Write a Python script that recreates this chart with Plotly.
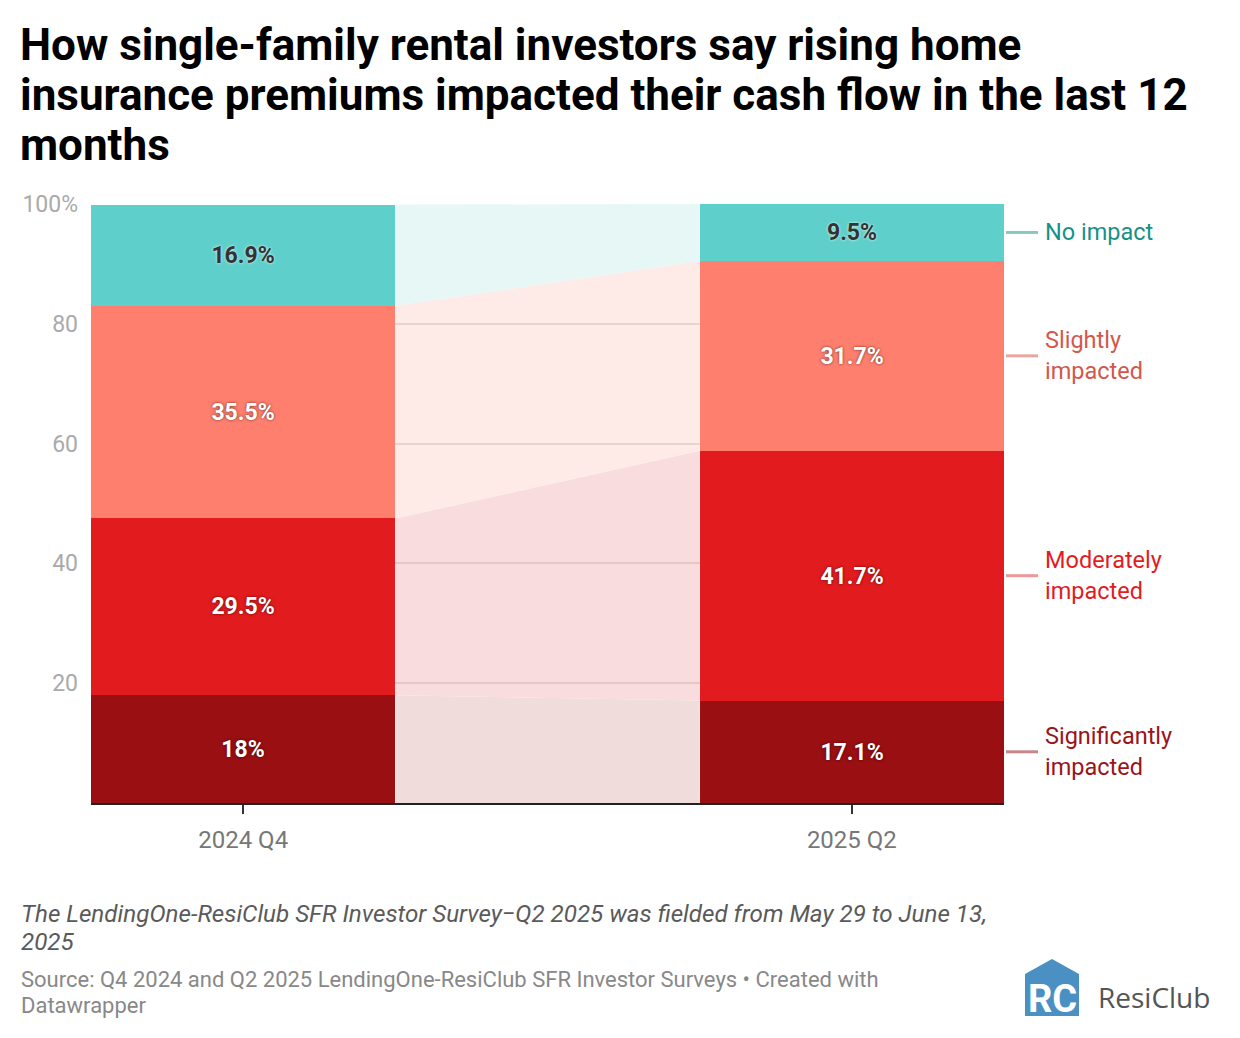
import plotly.graph_objects as go

# ---------------- data ----------------
periods = ["2024 Q4", "2025 Q2"]
categories = ["Significantly impacted", "Moderately impacted", "Slightly impacted", "No impact"]
significantly = [18.0, 17.1]
moderately = [29.5, 41.7]
slightly = [35.5, 31.7]
no_impact = [16.9, 9.5]
bar_labels = {
    "Significantly impacted": ["18%", "17.1%"],
    "Moderately impacted": ["29.5%", "41.7%"],
    "Slightly impacted": ["35.5%", "31.7%"],
    "No impact": ["16.9%", "9.5%"],
}
y_tickvals = [20, 40, 60, 80, 100]
y_ticktext = ["20", "40", "60", "80", "100%"]

series = {
    "Significantly impacted": significantly,
    "Moderately impacted": moderately,
    "Slightly impacted": slightly,
    "No impact": no_impact,
}

# ---------------- styles ----------------
bar_colors = {
    "Significantly impacted": "#990f12",
    "Moderately impacted": "#e11b1e",
    "Slightly impacted": "#ff7f6e",
    "No impact": "#5ecfca",
}
fill_colors = {
    "Significantly impacted": "#f0dcdb",
    "Moderately impacted": "#f9dcdd",
    "Slightly impacted": "#feeae7",
    "No impact": "#e6f7f6",
}
label_colors = {
    "Significantly impacted": "#9b1418",
    "Moderately impacted": "#e31c22",
    "Slightly impacted": "#d3584c",
    "No impact": "#16918a",
}
leader_colors = {
    "Significantly impacted": "#c98688",
    "Moderately impacted": "#f0979a",
    "Slightly impacted": "#eaa69e",
    "No impact": "#86c9c5",
}
text_colors = {
    "Significantly impacted": "white",
    "Moderately impacted": "white",
    "Slightly impacted": "white",
    "No impact": "#333333",
}
text_shadows = {
    "Significantly impacted": "0px 0px 3px rgba(0,0,0,0.6)",
    "Moderately impacted": "0px 0px 3px rgba(0,0,0,0.6)",
    "Slightly impacted": "0px 0px 3px rgba(0,0,0,0.6)",
    "No impact": "0px 0px 3px rgba(255,255,255,0.9)",
}
right_label_text = {
    "Significantly impacted": "Significantly<br>impacted",
    "Moderately impacted": "Moderately<br>impacted",
    "Slightly impacted": "Slightly<br>impacted",
    "No impact": "No impact",
}

W, H = 1240, 1038
L, R, T, B = 91, 1004, 204, 803
BAR_W = 0.5
xpos = list(range(len(periods)))


def px(x):
    return (x - L) / (R - L)


def py(y):
    return (B - y) / (B - T)


fig = go.Figure()
shapes = []
annotations = []

base = [0.0 for _ in periods]
for cat in categories:
    vals = series[cat]
    fig.add_trace(go.Bar(
        x=xpos, y=vals, base=base[:], width=BAR_W,
        marker=dict(color=bar_colors[cat], line=dict(width=0)),
        text=bar_labels[cat], textposition="inside", insidetextanchor="middle",
        textangle=0,
        textfont=dict(family="Roboto", size=23, weight=700, color=text_colors[cat],
                      shadow=text_shadows[cat]),
        hoverinfo="skip", name=cat, showlegend=False,
    ))
    # connector polygon between bars (computed from the data)
    top = [b + v for b, v in zip(base, vals)]
    x0 = xpos[0] + BAR_W / 2
    x1 = xpos[1] - BAR_W / 2
    path = (f"M {x0},{base[0]} L {x1},{base[1]} L {x1},{top[1]} "
            f"L {x0},{top[0]} Z")
    shapes.append(dict(type="path", path=path, xref="x", yref="y",
                       fillcolor=fill_colors[cat], line=dict(width=0), layer="below"))
    # right-side label
    mid = base[1] + vals[1] / 2
    shapes.append(dict(type="line", xref="paper", yref="y", x0=px(1006), x1=px(1038),
                       y0=mid, y1=mid, line=dict(color=leader_colors[cat], width=3)))
    annotations.append(dict(xref="paper", yref="y", x=px(1043), y=mid,
                            text=right_label_text[cat], showarrow=False,
                            xanchor="left", yanchor="middle", align="left",
                            font=dict(family="Roboto", size=23.5, color=label_colors[cat])))
    base = top

# title lines
title_lines = [
    "How single-family rental investors say rising home",
    "insurance premiums impacted their cash flow in the last 12",
    "months",
]
for i, line in enumerate(title_lines):
    annotations.append(dict(xref="paper", yref="paper", x=px(18), y=py(45 + 50 * i),
                            text=f"<b>{line}</b>", showarrow=False,
                            xanchor="left", yanchor="middle",
                            font=dict(family="Roboto", size=44, color="#000000")))

notes = [
    ("<i>The LendingOne-ResiClub SFR Investor Survey\u2212Q2 2025 was fielded from May 29 to June 13,</i>", 914, "#5a5a5a", 24.2),
    ("<i>2025</i>", 942, "#5a5a5a", 24.2),
    ("Source: Q4 2024 and Q2 2025 LendingOne-ResiClub SFR Investor Surveys \u2022 Created with", 979, "#888888", 22),
    ("Datawrapper", 1005, "#888888", 22),
]
for txt, yy, col, sz in notes:
    annotations.append(dict(xref="paper", yref="paper", x=px(19), y=py(yy), text=txt,
                            showarrow=False, xanchor="left", yanchor="middle",
                            font=dict(family="Roboto", size=sz, color=col)))

# logo
house = (f"M {px(1025)},{py(1016)} L {px(1025)},{py(974)} L {px(1052)},{py(959)} "
         f"L {px(1079)},{py(974)} L {px(1079)},{py(1016)} Z")
shapes.append(dict(type="path", path=house, xref="paper", yref="paper",
                   fillcolor="#4a90c2", line=dict(width=0), layer="above"))
annotations.append(dict(xref="paper", yref="paper", x=px(1052), y=py(999), text="<b>RC</b>",
                        showarrow=False, xanchor="center", yanchor="middle",
                        font=dict(family="Roboto", size=38, color="white")))
annotations.append(dict(xref="paper", yref="paper", x=px(1096), y=py(997), text="ResiClub",
                        showarrow=False, xanchor="left", yanchor="middle",
                        font=dict(family="Open Sans", size=28, color="#555555")))

fig.update_layout(
    width=W, height=H,
    margin=dict(l=L, r=W - R, t=T, b=H - B, pad=0),
    paper_bgcolor="white", plot_bgcolor="rgba(0,0,0,0)",
    barmode="overlay", bargap=0,
    shapes=shapes, annotations=annotations,
    showlegend=False,
    xaxis=dict(range=[-BAR_W / 2, 1 + BAR_W / 2], tickvals=xpos, ticktext=periods,
               showgrid=False, zeroline=False, showline=True, linecolor="#222222",
               linewidth=2, ticks="outside", ticklen=9, tickwidth=2, tickcolor="#333333",
               ticklabelstandoff=5,
               tickfont=dict(family="Roboto", size=24, color="#777777"), fixedrange=True),
    yaxis=dict(range=[0, 100], tickvals=y_tickvals, ticktext=y_ticktext,
               showgrid=True, gridcolor="rgba(0,0,0,0.09)", gridwidth=2, zeroline=False,
               showline=False, ticks="", ticklabelstandoff=12,
               tickfont=dict(family="Roboto", size=23, color="#aaaaaa"), fixedrange=True),
    font=dict(family="Roboto"),
)

fig.write_html("out.html", post_script="document.body.style.margin='0';",
               config={"displayModeBar": False})
